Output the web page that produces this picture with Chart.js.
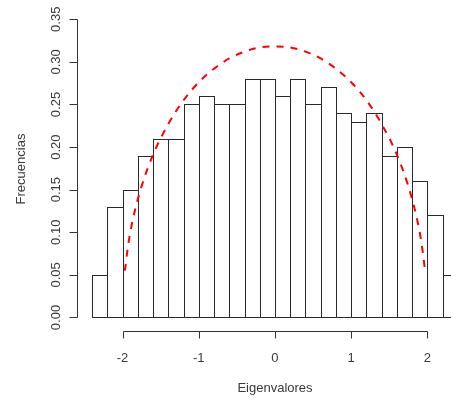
<!DOCTYPE html>
<html>
<head>
<meta charset="utf-8">
<script src="https://cdn.jsdelivr.net/npm/chart.js@4/dist/chart.umd.min.js"></script>
<style>
  html, body { margin: 0; padding: 0; background: #ffffff; overflow: hidden; }
  canvas { display: block; }
</style>
</head>
<body>
<canvas id="c" width="451" height="400"></canvas>
<script>
// Histogram of eigenvalues (density scale) with the semicircle law overlaid.
const binStarts = [-2.4, -2.2, -2.0, -1.8, -1.6, -1.4, -1.2, -1.0, -0.8, -0.6, -0.4, -0.2,
                    0.0,  0.2,  0.4,  0.6,  0.8,  1.0,  1.2,  1.4,  1.6,  1.8,  2.0,  2.2];
const binWidth = 0.2;
const densities = [0.05, 0.13, 0.15, 0.19, 0.21, 0.21, 0.25, 0.26, 0.25, 0.25, 0.28, 0.28,
                   0.26, 0.28, 0.25, 0.27, 0.24, 0.23, 0.24, 0.19, 0.20, 0.16, 0.12, 0.05];

const curveX = [-1.97, -1.92, -1.85, -1.75, -1.6, -1.4, -1.2, -1.0, -0.8, -0.6, -0.4, -0.2, 0.0,
                 0.2, 0.4, 0.6, 0.8, 1.0, 1.2, 1.4, 1.6, 1.75, 1.85, 1.92, 1.97];
const curveY = [0.055, 0.089, 0.121, 0.154, 0.191, 0.227, 0.255, 0.276, 0.292, 0.304, 0.312, 0.317, 0.318,
                0.317, 0.312, 0.304, 0.292, 0.276, 0.255, 0.227, 0.191, 0.154, 0.121, 0.089, 0.055];

const xTicks = [-2, -1, 0, 1, 2];
const yTicks = [0.00, 0.05, 0.10, 0.15, 0.20, 0.25, 0.30, 0.35];
const xTitle = 'Eigenvalores';
const yTitle = 'Frecuencias';

const barData = binStarts.map((s, i) => ({ x: s + binWidth / 2, y: densities[i] }));
const lineData = curveX.map((x, i) => ({ x: x, y: curveY[i] }));

const FONT = '13px "Liberation Sans", Arial, sans-serif';
const TEXT = '#3a3a3a';
const AXIS = '#333333';
const BAR_EDGE = '#2a2a2a';

// Crisp 1px outlines around each bar, shared edges drawn once on the same pixel column.
const barOutlines = {
  id: 'barOutlines',
  afterDatasetDraw(chart, args) {
    if (chart.data.datasets[args.index].type !== 'bar') return;
    const ctx = chart.ctx;
    const area = chart.chartArea;
    ctx.save();
    ctx.beginPath();
    ctx.rect(area.left, area.top, area.right - area.left, area.bottom - area.top);
    ctx.clip();
    ctx.strokeStyle = BAR_EDGE;
    ctx.lineWidth = 1;
    args.meta.data.forEach(bar => {
      const p = bar.getProps(['x', 'y', 'base', 'width'], true);
      const l = Math.round(p.x - p.width / 2) + 0.5;
      const r = Math.round(p.x + p.width / 2) + 0.5;
      const t = Math.round(p.y) + 0.5;
      const b = Math.round(p.base) + 0.5;
      ctx.strokeRect(l, t, r - l, b - t);
    });
    ctx.restore();
  }
};

// Base-graphics style axes: detached x axis spanning the tick range, y axis on the region edge.
const baseAxes = {
  id: 'baseAxes',
  afterDraw(chart) {
    const ctx = chart.ctx;
    const xs = chart.scales.x, ys = chart.scales.y;
    const area = chart.chartArea;
    ctx.save();
    ctx.strokeStyle = AXIS;
    ctx.lineWidth = 1;
    ctx.fillStyle = TEXT;
    ctx.font = FONT;

    // y axis
    const yx = Math.round(area.left) + 0.5;
    const y0 = ys.getPixelForValue(yTicks[0]);
    const y1 = ys.getPixelForValue(yTicks[yTicks.length - 1]);
    ctx.beginPath();
    ctx.moveTo(yx, Math.round(y0) + 0.5);
    ctx.lineTo(yx, Math.round(y1) + 0.5);
    yTicks.forEach(v => {
      const py = Math.round(ys.getPixelForValue(v)) + 0.5;
      ctx.moveTo(yx, py);
      ctx.lineTo(yx - 8, py);
    });
    ctx.stroke();
    yTicks.forEach(v => {
      const py = ys.getPixelForValue(v);
      ctx.save();
      ctx.translate(59.5, py);
      ctx.rotate(-Math.PI / 2);
      ctx.textAlign = 'center';
      ctx.textBaseline = 'alphabetic';
      ctx.fillText(v.toFixed(2), 0, 0);
      ctx.restore();
    });

    // x axis
    const xy = Math.round(area.bottom) + 0.5;
    const xa = Math.round(xs.getPixelForValue(xTicks[0])) + 0.5;
    const xb = Math.round(xs.getPixelForValue(xTicks[xTicks.length - 1])) + 0.5;
    ctx.beginPath();
    ctx.moveTo(xa, xy);
    ctx.lineTo(xb, xy);
    xTicks.forEach(v => {
      const px = Math.round(xs.getPixelForValue(v)) + 0.5;
      ctx.moveTo(px, xy);
      ctx.lineTo(px, xy + 7);
    });
    ctx.stroke();
    ctx.textAlign = 'center';
    ctx.textBaseline = 'alphabetic';
    xTicks.forEach(v => {
      ctx.fillText(String(v), xs.getPixelForValue(v), 362);
    });

    // titles
    ctx.fillText(xTitle, xs.getPixelForValue(0), 392);
    ctx.save();
    ctx.translate(25, (area.top + area.bottom) / 2);
    ctx.rotate(-Math.PI / 2);
    ctx.fillText(yTitle, 0, 0);
    ctx.restore();
    ctx.restore();
  }
};

new Chart(document.getElementById('c'), {
  type: 'bar',
  data: {
    datasets: [
      {
        type: 'line',
        data: lineData,
        borderColor: '#ff0000',
        borderWidth: 2,
        borderDash: [7, 7],
        pointRadius: 0,
        cubicInterpolationMode: 'monotone',
        fill: false,
        order: 0
      },
      {
        type: 'bar',
        data: barData,
        backgroundColor: '#ffffff',
        borderWidth: 0,
        barPercentage: 1,
        categoryPercentage: 1,
        inflateAmount: 0,
        order: 1
      }
    ]
  },
  options: {
    responsive: false,
    animation: false,
    devicePixelRatio: 1,
    layout: { padding: { left: 77, right: 0, top: 7, bottom: 69 } },
    plugins: { legend: { display: false }, tooltip: { enabled: false } },
    scales: {
      x: {
        type: 'linear',
        display: false,
        offset: false,
        min: -2.598,
        max: 2.3097
      },
      y: {
        type: 'linear',
        display: false,
        min: -0.01585,
        max: 0.3644
      }
    }
  },
  plugins: [barOutlines, baseAxes]
});
</script>
</body>
</html>
